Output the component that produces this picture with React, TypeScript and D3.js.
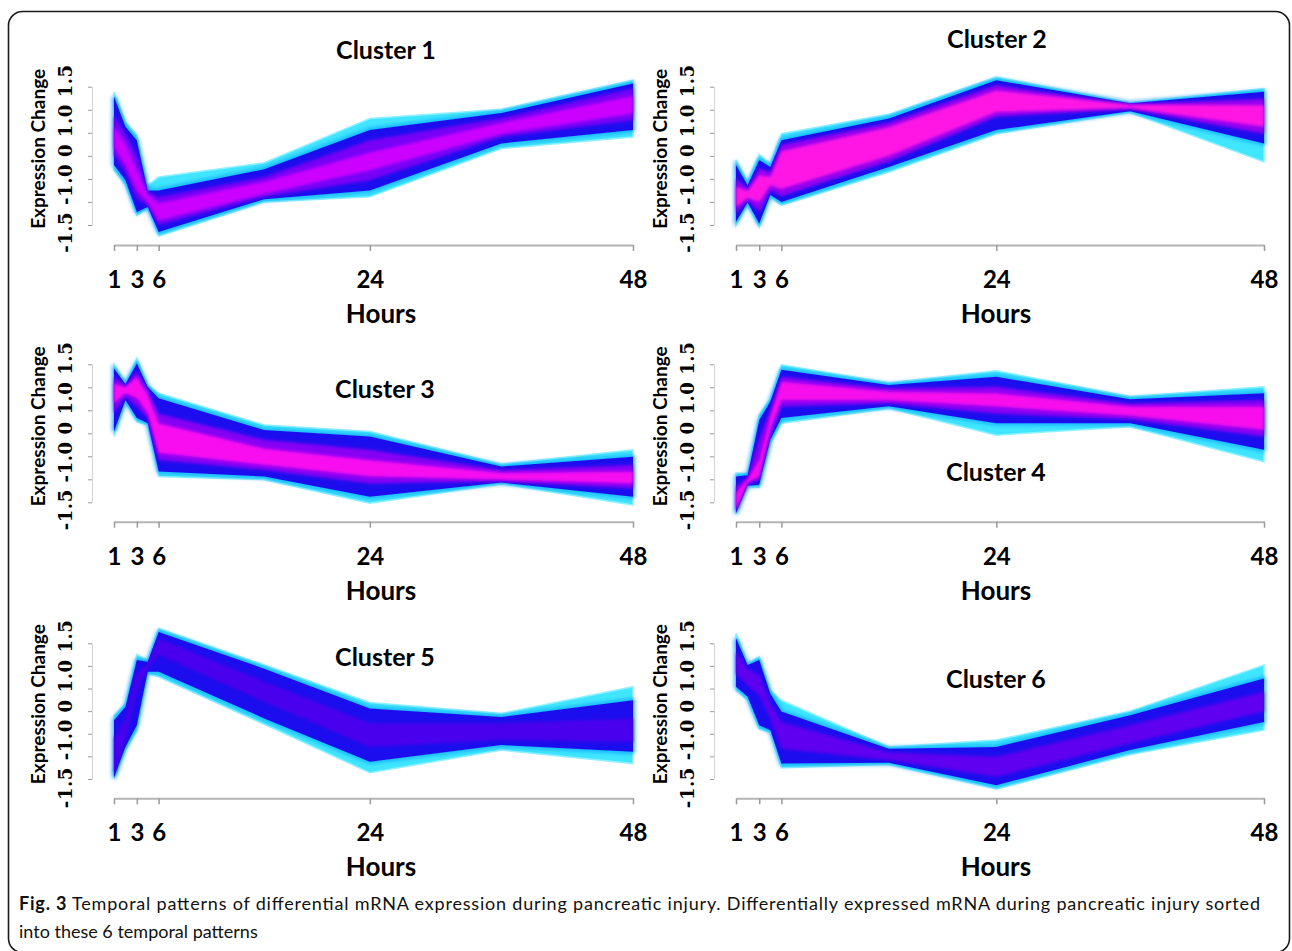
import React, { useRef, useEffect } from "react";
import * as d3 from "d3";

const WIDTH = 1292;
const HEIGHT = 951;
const FONT = "Lato, 'Open Sans', sans-serif";
const SERIF = "'DejaVu Serif', serif";

const hours = [1, 3, 6, 24, 48];
const hourLabels = ["1", "3", "6", "24", "48"];
const sampleHours = [1, 2, 3, 4.5, 6, 15, 24, 36, 48];
const yTicks = [-1.5, -1, -0.5, 0, 0.5, 1, 1.5];
const yTickLabels = ["-1.5", "-1.0", "0", "1.0", "1.5"];
const clusterNames = ["Cluster 1", "Cluster 2", "Cluster 3", "Cluster 4", "Cluster 5", "Cluster 6"];

// [low, high] expression of each membership band at every sample hour
const c1Cyan = [[-0.31, 1.39], [-0.64, 0.74], [-1.29, 0.45], [-1.14, -0.64], [-1.74, -0.46], [-1.0, -0.15], [-0.89, 0.81], [0.16, 1.01], [0.41, 1.64]];
const c1Blue = [[-0.2, 1.28], [-0.53, 0.63], [-1.22, 0.34], [-1.11, -0.75], [-1.65, -0.75], [-0.94, -0.29], [-0.75, 0.56], [0.27, 0.93], [0.56, 1.57]];
const c1Violet = [[0.01, 0.88], [-0.35, 0.48], [-0.93, 0.01], [-1.07, -0.78], [-1.5, -0.89], [-0.89, -0.46], [-0.53, 0.34], [0.41, 0.82], [0.77, 1.46]];
const c1Magenta = [[0.2, 0.63], [-0.2, 0.27], [-0.75, -0.31], [-1.0, -0.85], [-1.4, -1.03], [-0.82, -0.56], [-0.31, 0.07], [0.48, 0.72], [0.92, 1.3]];

const c2Cyan = [[-1.5, -0.09], [-1.06, -0.56], [-1.54, 0.03], [-0.89, -0.17], [-1.07, 0.48], [-0.35, 0.9], [0.48, 1.71], [0.94, 1.15], [-0.13, 1.46]];
const c2Blue = [[-1.43, -0.2], [-1.01, -0.64], [-1.47, -0.09], [-0.85, -0.24], [-1.0, 0.34], [-0.24, 0.81], [0.56, 1.64], [0.97, 1.14], [0.27, 1.39]];
const c2Violet = [[-1.25, -0.49], [-0.96, -0.71], [-1.21, -0.27], [-0.74, -0.35], [-0.87, 0.24], [-0.12, 0.72], [0.85, 1.53], [1.01, 1.12], [0.48, 1.24]];
const c2Magenta = [[-1.11, -0.67], [-0.91, -0.77], [-1.0, -0.42], [-0.64, -0.46], [-0.72, 0.1], [0.0, 0.62], [0.95, 1.42], [1.04, 1.11], [0.63, 1.1]];

const c3Cyan = [[-0.07, 1.49], [0.69, 1.1], [0.25, 1.63], [0.18, 1.05], [-0.94, 0.87], [-1.01, 0.18], [-1.52, 0.04], [-1.1, -0.67], [-1.56, -0.36]];
const c3Blue = [[0.04, 1.41], [0.72, 1.07], [0.33, 1.52], [0.22, 1.01], [-0.83, 0.76], [-0.94, 0.07], [-1.38, -0.07], [-1.07, -0.72], [-1.38, -0.51]];
const c3Violet = [[0.43, 1.23], [0.8, 1.03], [0.58, 1.34], [0.33, 0.94], [-0.58, 0.43], [-0.8, -0.14], [-1.09, -0.36], [-1.05, -0.8], [-1.2, -0.69]];
const c3Magenta = [[0.65, 1.09], [0.87, 1.0], [0.76, 1.23], [0.43, 0.83], [-0.43, 0.22], [-0.69, -0.33], [-0.94, -0.58], [-1.01, -0.86], [-1.09, -0.83]];

const c4Cyan = [[-1.75, -0.87], [-1.16, -0.87], [-1.17, 0.4], [-0.22, 0.76], [0.22, 1.49], [0.54, 1.1], [-0.04, 1.36], [0.14, 0.8], [-0.62, 1.01]];
const c4Blue = [[-1.74, -0.94], [-1.14, -0.91], [-1.12, 0.29], [-0.14, 0.69], [0.33, 1.38], [0.59, 1.05], [0.22, 1.23], [0.22, 0.74], [-0.36, 0.87]];
const c4Violet = [[-1.7, -1.16], [-1.1, -0.96], [-1.01, -0.14], [-0.04, 0.51], [0.58, 1.23], [0.65, 0.98], [0.43, 1.01], [0.3, 0.65], [-0.07, 0.72]];
const c4Magenta = [[-1.67, -1.3], [-1.07, -1.0], [-0.94, -0.58], [0.07, 0.36], [0.72, 1.12], [0.72, 0.91], [0.58, 0.87], [0.38, 0.58], [0.07, 0.58]];

const c5Cyan = [[-1.5, -0.09], [-0.86, 0.17], [-0.44, 1.25], [0.83, 1.13], [0.76, 1.83], [-0.29, 1.02], [-1.36, 0.19], [-0.86, -0.05], [-1.16, 0.54]];
const c5Blue = [[-1.47, -0.2], [-0.79, 0.1], [-0.31, 1.13], [0.87, 1.09], [0.87, 1.75], [-0.16, 0.94], [-1.12, 0.06], [-0.75, -0.13], [-0.9, 0.24]];
const c5Violet = [[-1.41, -0.6], [-0.64, -0.16], [0.43, 0.87], [0.94, 1.03], [1.24, 1.61], [0.21, 0.65], [-0.79, -0.27], [-0.64, -0.27], [-0.68, -0.16]];

const c6Cyan = [[0.46, 1.72], [0.24, 1.05], [-0.4, 1.2], [-0.47, 0.46], [-1.25, 0.24], [-1.18, -0.79], [-1.72, -0.64], [-0.96, 0.0], [-0.42, 1.02]];
const c6Blue = [[0.54, 1.61], [0.32, 1.02], [-0.31, 1.13], [-0.42, 0.39], [-1.16, -0.01], [-1.14, -0.83], [-1.64, -0.79], [-0.86, -0.09], [-0.24, 0.72]];
const c6Violet = [[0.83, 1.31], [0.57, 0.94], [0.35, 0.8], [-0.16, 0.17], [-0.83, -0.24], [-1.08, -0.91], [-1.45, -1.01], [-0.71, -0.31], [-0.01, 0.43]];

const captionBold = "Fig. 3";
const captionLine1 =
  " Temporal patterns of differential mRNA expression during pancreatic injury. Differentially expressed mRNA during pancreatic injury sorted";
const captionLine2 = "into these 6 temporal patterns";

// layout
const X_FRACS = [0, 0.044, 0.086, 0.493, 1];
const COLS = [
  { left: 114, right: 633, hoursX: 381 },
  { left: 736, right: 1264, hoursX: 996 },
];
const ROWS = [
  { top: 86.7, bottom: 225, axis: 245 },
  { top: 364.3, bottom: 502.3, axis: 521.7 },
  { top: 643.3, bottom: 779, axis: 798.3 },
];
const TITLE_POS = [[386, 59], [997, 48], [385, 398], [996, 481], [385, 666], [996, 688]];

const clusters = [
  { cyan: c1Cyan, blue: c1Blue, violet: c1Violet, magenta: c1Magenta, violetColor: "#7800f6", magentaColor: "#cc00ff" },
  { cyan: c2Cyan, blue: c2Blue, violet: c2Violet, magenta: c2Magenta, violetColor: "#9400f0", magentaColor: "#ff12e4" },
  { cyan: c3Cyan, blue: c3Blue, violet: c3Violet, magenta: c3Magenta, violetColor: "#8600f4", magentaColor: "#f808f0" },
  { cyan: c4Cyan, blue: c4Blue, violet: c4Violet, magenta: c4Magenta, violetColor: "#8a00f4", magentaColor: "#f80cec" },
  { cyan: c5Cyan, blue: c5Blue, violet: c5Violet, magenta: null, violetColor: "#4800ec", magentaColor: "" },
  { cyan: c6Cyan, blue: c6Blue, violet: c6Violet, magenta: null, violetColor: "#5e00f0", magentaColor: "" },
];

export default function App() {
  const ref = useRef<SVGSVGElement>(null);

  useEffect(() => {
    const svg = d3.select(ref.current);
    svg.selectAll("*").remove();

    const defs = svg.append("defs");
    [["soft1", 0.7], ["soft2", 1.4], ["soft3", 2]].forEach(([id, s]) => {
      defs.append("filter").attr("id", id).append("feGaussianBlur").attr("stdDeviation", s);
    });

    svg.append("rect").attr("width", WIDTH).attr("height", HEIGHT).attr("fill", "#fff");

    clusters.forEach((c, i) => {
      const col = COLS[i % 2];
      const row = ROWS[Math.floor(i / 2)];
      const w = col.right - col.left;

      const x = d3.scaleLinear().domain(hours).range(X_FRACS.map((f) => col.left + f * w));
      const y = d3.scaleLinear().domain([-1.5, 1.5]).range([row.bottom, row.top]);

      const area = d3
        .area<number[]>()
        .x((d, j) => x(sampleHours[j]))
        .y0((d) => y(d[0]))
        .y1((d) => y(d[1]));

      const g = svg.append("g");

      // outer cyan fringe (low membership)
      g.append("path")
        .attr("d", area(c.cyan))
        .attr("fill", "#3fe6ff")
        .attr("stroke", "#8ff1ff")
        .attr("stroke-width", 1.5)
        .attr("filter", "url(#soft1)");
      g.append("path")
        .attr("d", area(c.blue))
        .attr("fill", "none")
        .attr("stroke", "#0a9cff")
        .attr("stroke-width", 3)
        .attr("filter", "url(#soft3)");
      g.append("path").attr("d", area(c.blue)).attr("fill", "#1c10ee").attr("filter", "url(#soft1)");
      g.append("path").attr("d", area(c.violet)).attr("fill", c.violetColor).attr("filter", "url(#soft2)");
      if (c.magenta) {
        g.append("path").attr("d", area(c.magenta)).attr("fill", c.magentaColor).attr("filter", "url(#soft2)");
      }

      // y axis: ticks only, labels are one rotated string as in the original
      const yAxis = g
        .append("g")
        .attr("transform", `translate(${col.left - 22},0)`)
        .call(d3.axisLeft(y).tickValues(yTicks).tickSize(4).tickSizeOuter(0).tickFormat(() => ""));
      yAxis.select(".domain").attr("stroke", "#d4d4d4");
      yAxis.selectAll(".tick line").attr("stroke", "#9a9a9a");

      const xAxis = g
        .append("g")
        .attr("transform", `translate(0,${row.axis})`)
        .call(
          d3
            .axisBottom(x)
            .tickValues(hours)
            .tickSize(6)
            .tickSizeOuter(0)
            .tickPadding(20)
            .tickFormat((d, j) => hourLabels[j])
        );
      xAxis.select(".domain").attr("stroke", "#b4b4b4").attr("stroke-width", 2);
      xAxis.selectAll(".tick line").attr("stroke", "#9a9a9a").attr("stroke-width", 1.5);
      xAxis
        .selectAll("text")
        .attr("font-family", FONT)
        .attr("font-size", 24)
        .attr("font-weight", "bold")
        .attr("fill", "#000");

      const mid = (row.top + row.bottom) / 2;

      g.append("text")
        .attr("transform", `translate(${col.left - 76},${mid - 7}) rotate(-90)`)
        .attr("text-anchor", "middle")
        .attr("dy", "0.35em")
        .attr("font-family", FONT)
        .attr("font-size", 19)
        .attr("font-weight", "bold")
        .text("Expression Change");

      g.append("text")
        .attr("transform", `translate(${col.left - 48},${mid + 3}) rotate(-90)`)
        .attr("text-anchor", "middle")
        .attr("dy", "0.35em")
        .attr("font-family", SERIF)
        .attr("font-size", 18)
        .attr("font-weight", "bold")
        .attr("textLength", 188)
        .attr("lengthAdjust", "spacing")
        .text(yTickLabels.join(" "));

      g.append("text")
        .attr("x", col.hoursX)
        .attr("y", row.axis + 78)
        .attr("text-anchor", "middle")
        .attr("font-family", FONT)
        .attr("font-size", 26)
        .attr("font-weight", "bold")
        .text("Hours");

      g.append("text")
        .attr("x", TITLE_POS[i][0])
        .attr("y", TITLE_POS[i][1])
        .attr("text-anchor", "middle")
        .attr("font-family", FONT)
        .attr("font-size", 25)
        .attr("font-weight", "bold")
        .text(clusterNames[i]);
    });

    const cap = svg
      .append("text")
      .attr("x", 19)
      .attr("y", 910)
      .attr("font-family", FONT)
      .attr("font-size", 18)
      .attr("fill", "#111")
      .attr("textLength", 1241)
      .attr("lengthAdjust", "spacing");
    cap.append("tspan").attr("font-weight", "bold").text(captionBold);
    cap.append("tspan").text(captionLine1);

    svg
      .append("text")
      .attr("x", 19)
      .attr("y", 938)
      .attr("font-family", FONT)
      .attr("font-size", 18)
      .attr("fill", "#111")
      .text(captionLine2);

    svg
      .append("rect")
      .attr("x", 8.5)
      .attr("y", 11.5)
      .attr("width", 1281)
      .attr("height", 941)
      .attr("rx", 14)
      .attr("fill", "none")
      .attr("stroke", "#1a1a1a")
      .attr("stroke-width", 1.6);
  }, []);

  return (
    <svg
      ref={ref}
      width={WIDTH}
      height={HEIGHT}
      style={{ position: "absolute", left: 0, top: 0, display: "block" }}
    />
  );
}
